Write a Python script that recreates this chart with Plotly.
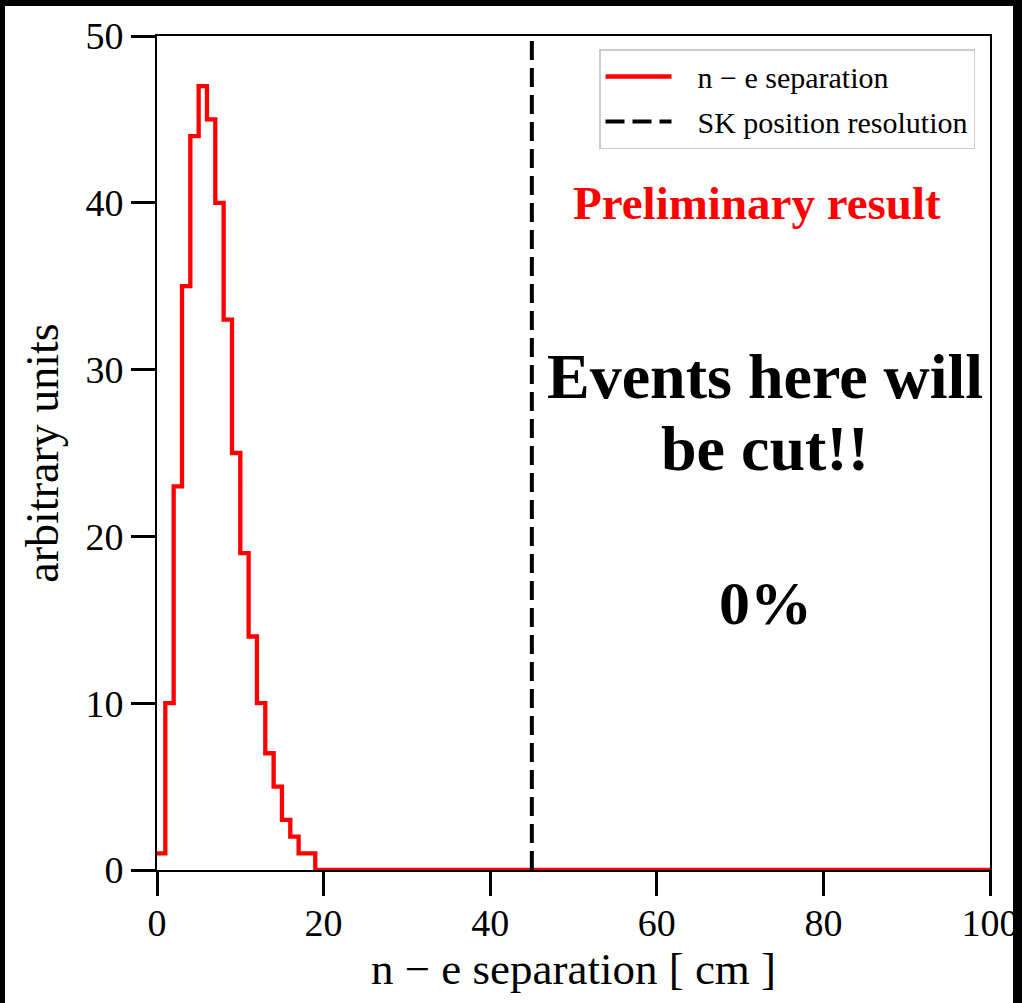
import plotly.graph_objects as go

# Histogram of the n-e separation distance (1 cm bins over 0-100 cm)
bin_edges = list(range(0, 101))
counts = [1, 10, 23, 35, 44, 47, 45, 40, 33, 25, 19, 14, 10, 7, 5, 3, 2, 1, 1] + [0] * 81

# SK vertex position resolution used as the cut value (cm)
cut_position = 45

x_range = [0, 100]
y_range = [0, 50]
x_ticks = [0, 20, 40, 60, 80, 100]
y_ticks = [0, 10, 20, 30, 40, 50]

series_names = ["n \u2212 e separation", "SK position resolution"]
x_title = "n \u2212 e separation [ cm ]"
y_title = "arbitrary units"
prelim_text = "Preliminary result"
cut_lines = ["Events here will", "be cut!!"]
fraction_text = "0%"

SERIF = "Liberation Serif, Times New Roman, serif"
LEGEND_PAD = "\u2002\u2009"  # small gap between the legend sample line and its label

fig = go.Figure()

# step outline: each count is held across its bin, last value repeated at the final edge
step_y = counts + [counts[-1]]
fig.add_trace(go.Scatter(
    x=bin_edges, y=step_y, mode="lines", name=LEGEND_PAD + series_names[0],
    line=dict(color="#ff0000", width=4.3, shape="hv"),
    legendgroup="a",
))
fig.add_trace(go.Scatter(
    x=[cut_position, cut_position], y=y_range, mode="lines", name=LEGEND_PAD + series_names[1],
    line=dict(color="black", width=4, dash="19px,8px"),
    legendgroup="b",
))

fig.add_annotation(x=72, y=40, xref="x", yref="y", text="<b>%s</b>" % prelim_text,
                   showarrow=False, font=dict(family=SERIF, size=47, color="#ff0000"),
                   xanchor="center", yanchor="middle")
for y_pos, line_text in zip([29.6, 25.3], cut_lines):
    fig.add_annotation(x=73, y=y_pos, xref="x", yref="y", text="<b>%s</b>" % line_text,
                       showarrow=False, font=dict(family=SERIF, size=64, color="black"),
                       xanchor="center", yanchor="middle")
fig.add_annotation(x=73, y=16, xref="x", yref="y", text="<b>%s</b>" % fraction_text,
                   showarrow=False, font=dict(family=SERIF, size=62, color="black"),
                   xanchor="center", yanchor="middle")

# dark frame around the page edges
frame = dict(type="rect", xref="paper", yref="paper", layer="above",
             fillcolor="black", line=dict(width=0))
fig.add_shape(**frame, x0=-0.3, x1=1.1, y0=(870 - 6) / 834, y1=1.2)
fig.add_shape(**frame, x0=-0.3, x1=(5 - 157) / 833, y0=-0.3, y1=1.2)
fig.add_shape(**frame, x0=(1013 - 157) / 833, x1=1.1, y0=-0.3, y1=1.2)

axis_common = dict(
    showgrid=False, zeroline=False, showline=True, linecolor="black", linewidth=2,
    mirror=True, ticks="outside", ticklen=24, tickwidth=2.5, tickcolor="black",
    tickfont=dict(family=SERIF, size=38, color="black"), automargin=False,
)

fig.update_xaxes(range=x_range, tickvals=x_ticks, ticktext=[str(v) for v in x_ticks],
                 ticklabelstandoff=-6,
                 title=dict(text=x_title, font=dict(family=SERIF, size=45, color="black"), standoff=6),
                 **axis_common)
fig.update_yaxes(range=y_range, tickvals=y_ticks, ticktext=[str(v) for v in y_ticks],
                 title=dict(text=y_title, font=dict(family=SERIF, size=46, color="black"), standoff=12),
                 **axis_common)

fig.update_layout(
    width=1022, height=1003,
    margin=dict(l=157, r=32, t=36, b=133),
    paper_bgcolor="white", plot_bgcolor="white",
    showlegend=True,
    legend=dict(
        x=(975 - 157) / 833, y=(870 - 49) / 834, xanchor="right", yanchor="top",
        bgcolor="white", bordercolor="#cccccc", borderwidth=1.5,
        font=dict(family=SERIF, size=30, color="black"),
        traceorder="grouped", tracegroupgap=3, itemwidth=66,
    ),
)

fig.write_html("out.html")
